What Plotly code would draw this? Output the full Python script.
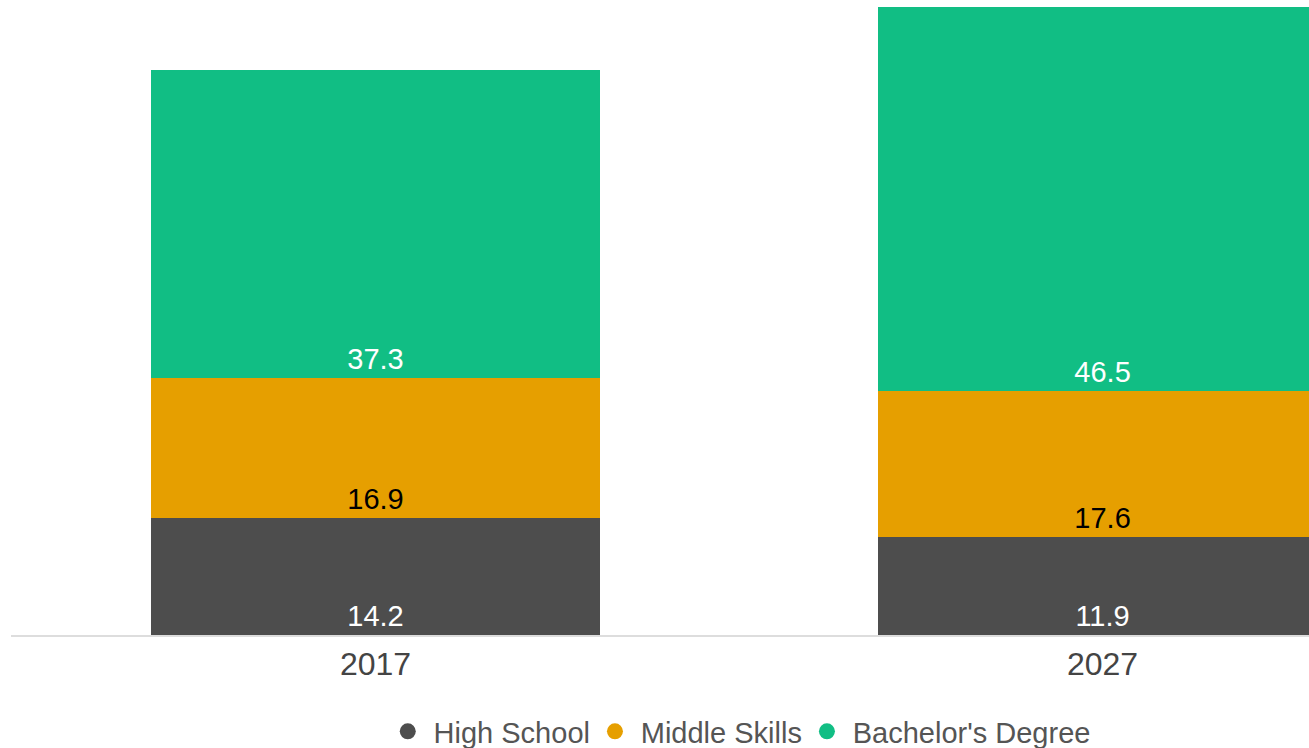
import plotly.graph_objects as go

categories = ["2017", "2027"]
series_names = ["High School", "Middle Skills", "Bachelor's Degree"]
high_school = [14.2, 11.9]
middle_skills = [16.9, 17.6]
bachelors = [37.3, 46.5]
colors = ["#4d4d4d", "#e69f00", "#11be84"]
text_colors = ["#ffffff", "#000000", "#ffffff"]

values = [high_school, middle_skills, bachelors]
FONT = "Liberation Sans, Arial, sans-serif"

fig = go.Figure()
for name, vals, col, tcol in zip(series_names, values, colors, text_colors):
    fig.add_trace(go.Bar(
        x=categories, y=vals, name=name,
        marker=dict(color=col, line=dict(width=0)),
        text=[f"{v:.1f}" for v in vals],
        textposition="inside", insidetextanchor="start",
        textfont=dict(family=FONT, size=29, color=tcol),
        textangle=0,
        showlegend=False,
        hoverinfo="skip",
    ))
# legend entries with circle symbols
for name, col in zip(series_names, colors):
    fig.add_trace(go.Scatter(
        x=[None], y=[None], mode="markers", name="\u2009" + name,
        marker=dict(symbol="circle", size=20, color=col),
        showlegend=True,
    ))

fig.update_layout(
    barmode="stack",
    bargap=0.382,
    width=1309, height=748,
    margin=dict(l=11, r=0, t=0, b=113, autoexpand=False),
    plot_bgcolor="white", paper_bgcolor="white",
    xaxis=dict(
        type="category", range=[-0.5014, 1.284],
        showline=True, linecolor="#dddddd", linewidth=1.5,
        showgrid=False, ticks="", zeroline=False,
        tickfont=dict(family=FONT, size=32, color="#444444"),
        fixedrange=True,
    ),
    yaxis=dict(
        range=[0, 76.86], visible=False, showgrid=False, zeroline=False,
        fixedrange=True,
    ),
    legend=dict(
        orientation="h", x=0.563, xanchor="center",
        y=-0.152, yanchor="middle",
        traceorder="normal",
        font=dict(family=FONT, size=29, color="#555555"),
        itemsizing="trace",
        bgcolor="rgba(0,0,0,0)",
    ),
    showlegend=True,
)

fig.write_html(
    "out.html",
    config={"displayModeBar": False},
    post_script="document.body.style.margin='0';document.body.style.overflow='hidden';",
)
